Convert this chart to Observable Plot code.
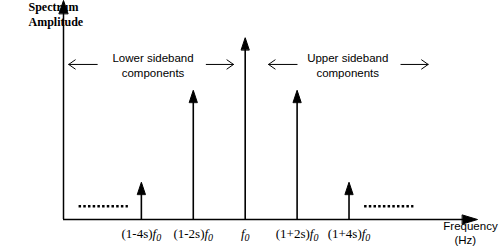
<!DOCTYPE html>
<html><head><meta charset="utf-8">
<script src="https://cdn.jsdelivr.net/npm/d3@7"></script>
<script src="https://cdn.jsdelivr.net/npm/@observablehq/plot@0.6"></script>
<style>body{margin:0;background:#fff}</style>
</head><body><div id="chart"></div>
<script>
// Spectral lines: offset from f0 in units of s·f0, relative amplitude
const labels = ["(1-4s)f0", "(1-2s)f0", "f0", "(1+2s)f0", "(1+4s)f0"];
const offsets = [-4, -2, 0, 2, 4];
const amplitudes = [0.17, 0.59, 0.83, 0.59, 0.17];
// "more components" dotted runs
const dottedRuns = [[-6.4, -4.5], [4.6, 6.5]];
const dottedLevel = 0.06;
// sideband annotations
const sidebandText = ["Lower sideband\ncomponents", "Upper sideband\ncomponents"];
const sidebandCenter = [-3.55, 3.95];
const sidebandArrows = [[-5.7, -6.8], [-1.5, -0.45], [2.0, 0.9], [6.0, 7.05]];
const yTitle = "Spectrum\nAmplitude";
const xTitle = ["Frequency", "(Hz)"];

const xMin = -7, xMax = 8.95;
const lines = offsets.map((k, i) => ({k, amp: amplitudes[i], label: labels[i]}));
const head = {draw(ctx, l, r) { ctx.moveTo(-r, 0); ctx.lineTo(0, -l); ctx.lineTo(r, 0); ctx.closePath(); }};

const plot = Plot.plot({
  width: 500, height: 248,
  marginLeft: 63, marginRight: 23, marginTop: 0, marginBottom: 29,
  x: {domain: [xMin, xMax], axis: null},
  y: {domain: [0, 1], axis: null},
  style: {background: "#fff", color: "#000"},
  marks: [
    // axes
    Plot.ruleX([xMin], {y1: 0, y2: 0.97, strokeWidth: 1.5}),
    Plot.vector([xMin], {x: d => d, y: 1, length: 13, r: 4.5, rotate: 0, shape: head, anchor: "end", fill: "#000", stroke: "#000", strokeWidth: 1}),
    Plot.ruleY([0], {x1: xMin, x2: xMax - 0.3, strokeWidth: 1.5}),
    Plot.vector([xMax], {x: d => d, y: 0, length: 15, r: 4.5, rotate: 90, shape: head, anchor: "end", fill: "#000", stroke: "#000", strokeWidth: 1}),
    // spectral lines
    Plot.ruleX(lines, {x: "k", y1: 0, y2: d => d.amp - 0.03, strokeWidth: 1.6}),
    Plot.vector(lines, {x: "k", y: "amp", length: 12, r: 4, rotate: 0, shape: head, anchor: "end", fill: "#000", stroke: "#000", strokeWidth: 1}),
    // dotted runs
    Plot.ruleY(dottedRuns, {x1: d => d[0], x2: d => d[1], y: dottedLevel, strokeWidth: 2.5, strokeDasharray: "2.5,2.2"}),
    // tick labels
    Plot.text(lines, {x: "k", y: 0, text: "label", dy: 14, fontSize: 13, fontFamily: "Liberation Serif"}),
    // sideband annotations
    Plot.text(sidebandText, {x: (d, i) => sidebandCenter[i], y: 0.705, text: d => d, fontSize: 11.5, lineHeight: 1.3, fontFamily: "Liberation Sans"}),
    Plot.arrow(sidebandArrows, {x1: d => d[0], x2: d => d[1], y1: 0.708, y2: 0.708, headLength: 12, headAngle: 70, strokeWidth: 1}),
    // titles
    Plot.text([yTitle], {frameAnchor: "top-left", dx: -35, dy: 1, text: d => d, lineAnchor: "top", fontWeight: "bold", fontFamily: "Liberation Serif", fontSize: 12, lineHeight: 1.17}),
    Plot.text([xTitle[0]], {x: xMax - 0.27, y: 0, dy: 7, text: d => d, fontSize: 11.5, fontFamily: "Liberation Sans"}),
    Plot.text([xTitle[1]], {x: xMax - 0.47, y: 0, dy: 21, text: d => d, fontSize: 11.5, fontFamily: "Liberation Sans"})
  ]
});

// italic f with subscript 0 in tick labels
d3.select(plot).selectAll("text").filter(function() { return /f0$/.test(this.textContent); }).each(function() {
  const t = this.textContent;
  const sel = d3.select(this);
  sel.text(t.slice(0, -2));
  sel.append("tspan").attr("font-style", "italic").text("f");
  sel.append("tspan").attr("font-style", "italic").attr("font-size", "10").attr("dy", "3").text("0");
});

document.getElementById("chart").append(plot);
</script>
</body></html>
